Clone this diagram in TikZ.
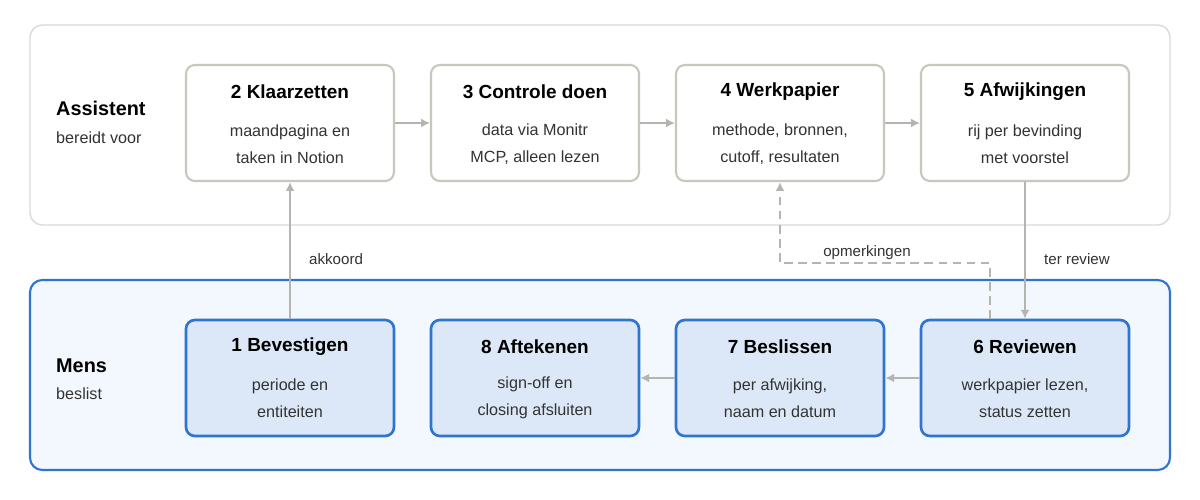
\documentclass[tikz,border=0pt]{standalone}
\usepackage{fontspec}
\setmainfont{Liberation Sans}
\usetikzlibrary{arrows.meta}
\definecolor{gborder}{HTML}{C9C7BD}
\definecolor{panelb}{HTML}{DADADA}
\definecolor{bfill}{HTML}{DCE8F8}
\definecolor{bline}{HTML}{2F74D0}
\definecolor{pfill}{HTML}{F3F7FE}
\definecolor{arr}{HTML}{B5B5B0}
\definecolor{txt}{HTML}{333333}
\begin{document}
\begin{tikzpicture}[x=0.02cm,y=-0.02cm,
  tbox/.style={draw=gborder,line width=1.2pt,fill=white,rounded corners=5pt,minimum width=4.16cm,minimum height=2.32cm,inner sep=0},
  bbox/.style={draw=bline,line width=1.5pt,fill=bfill,rounded corners=5pt,minimum width=4.16cm,minimum height=2.32cm,inner sep=0},
  ttl/.style={font=\fontsize{10.8}{13}\selectfont\bfseries,text=black},
  body/.style={font=\fontsize{9.2}{15.3}\selectfont,text=txt,align=center},
  lab/.style={font=\fontsize{8.6}{10}\selectfont,text=txt},
  ar/.style={draw=arr,line width=1pt,-{Latex[length=5pt,width=5pt]}}]
\useasboundingbox (0,0) rectangle (1200,500);
\fill[white] (0,0) rectangle (1200,500);
\draw[panelb,line width=0.8pt,fill=white,rounded corners=7pt] (30,25) rectangle (1170,225);
\draw[bline,line width=1.2pt,fill=pfill,rounded corners=7pt] (30,280) rectangle (1170,470);
\node[anchor=base west,font=\fontsize{11.3}{13}\selectfont\bfseries] (la) at (50,115) {Assistent};
\node[anchor=base west,font=\fontsize{9.2}{11}\selectfont,text=txt] (lb) at (50,144) {bereidt voor};
\node[anchor=base west,font=\fontsize{11.3}{13}\selectfont\bfseries] (lc) at (50,372) {Mens};
\node[anchor=base west,font=\fontsize{9.2}{11}\selectfont,text=txt] (ld) at (50,399) {beslist};
% top boxes
\foreach \n/\x/\t/\a/\b in {b2/290/2 Klaarzetten/maandpagina en/taken in Notion,
  b3/535/3 Controle doen/data via Monitr/{MCP, alleen lezen},
  b4/780/4 Werkpapier/{methode, bronnen,}/{cutoff, resultaten},
  b5/1025/5 Afwijkingen/rij per bevinding/met voorstel}{
  \node[tbox] (\n) at (\x,123) {};
  \node[ttl] (\n t) at (\x,92) {\t};
  \node[body] (\n b) at (\x,144) {\a\\\b};
}
\foreach \n/\x/\t/\a/\b in {b1/290/1 Bevestigen/periode en/entiteiten,
  b8/535/8 Aftekenen/sign-off en/closing afsluiten,
  b7/780/7 Beslissen/{per afwijking,}/naam en datum,
  b6/1025/6 Reviewen/{werkpapier lezen,}/status zetten}{
  \node[bbox] (\n) at (\x,378) {};
  \node[ttl] (\n t) at (\x,347) {\t};
  \node[body] (\n b) at (\x,398) {\a\\\b};
}
\draw[ar] (b2) -- (b3);
\draw[ar] (b3) -- (b4);
\draw[ar] (b4) -- (b5);
\draw[ar] (b6) -- (b7);
\draw[ar] (b7) -- (b8);
\draw[ar] (b1.north) -- (b2.south);
\draw[ar] (b5.south) -- (b6.north);
\coordinate (d1) at (990,263);
\coordinate (d2) at (780,263);
\draw[ar,dashed,dash pattern=on 5pt off 3pt] (b6.north -| d1) -- (d1) -- (d2) -- (b4.south);
\node[lab,anchor=base west] (l1) at (303,264) {akkoord};
\node[lab,anchor=base west] (l2) at (1038,264) {ter review};
\node[lab,anchor=base] (l3) at (867,256) {opmerkingen};
\end{tikzpicture}
\end{document}
